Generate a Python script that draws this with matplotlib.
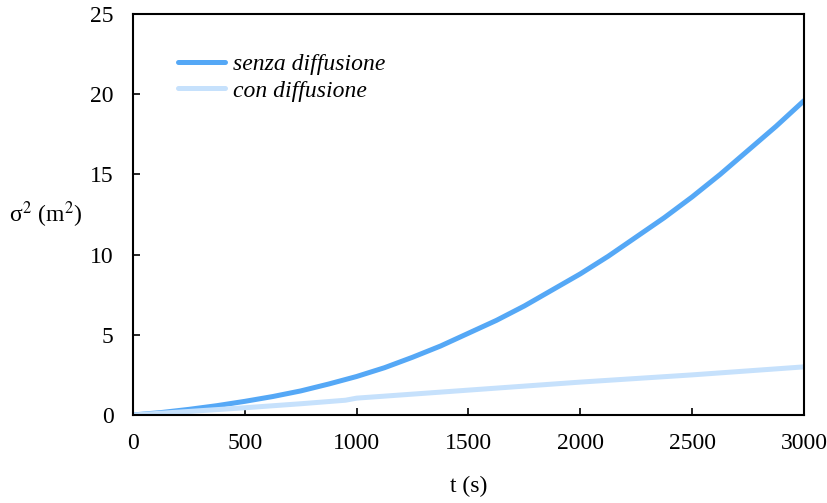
import numpy as np
from matplotlib import pyplot as plt

# time samples (s) and variance (m^2)
t_senza = [0, 125, 250, 375, 500, 625, 750, 875, 1000, 1125, 1250, 1375, 1500,
           1625, 1750, 1875, 2000, 2125, 2250, 2375, 2500, 2625, 2750, 2875, 3000]
s2_senza = [0, 0.15, 0.35, 0.58, 0.85, 1.15, 1.5, 1.93, 2.4, 2.95, 3.6, 4.3, 5.1,
            5.9, 6.8, 7.8, 8.8, 9.9, 11.1, 12.3, 13.6, 15.0, 16.5, 18.0, 19.6]

t_con = [0, 250, 500, 750, 950, 1000, 1500, 2000, 2500, 3000]
s2_con = [0, 0.22, 0.45, 0.7, 0.92, 1.05, 1.55, 2.05, 2.5, 3.0]

xticks = [0, 500, 1000, 1500, 2000, 2500, 3000]
yticks = [0, 5, 10, 15, 20, 25]

plt.rcParams['font.family'] = ['Liberation Serif', 'DejaVu Serif']
plt.rcParams['mathtext.fontset'] = 'stix'
plt.rcParams['font.size'] = 17

fig = plt.figure(figsize=(8.28, 5.03), dpi=100)
ax = fig.add_axes([0.1606, 0.175, 0.8104, 0.797])

ax.plot(t_senza, s2_senza, color='#55a8f6', lw=3.6, label='senza diffusione',
        solid_capstyle='round', solid_joinstyle='round')
ax.plot(t_con, s2_con, color='#c6e1fc', lw=3.6, label='con diffusione',
        solid_capstyle='round', solid_joinstyle='round')

ax.set_xlim(0, 3000)
ax.set_ylim(0, 25)
ax.set_xticks(xticks)
ax.set_yticks(yticks)
ax.tick_params(direction='in', length=5, width=1.2, labelsize=17)
ax.tick_params(axis='x', pad=13)
ax.tick_params(axis='y', pad=14)
for sp in ax.spines.values():
    sp.set_linewidth(1.5)

ax.set_xlabel('t (s)', fontsize=17, labelpad=16)
ax.set_ylabel('σ$^2$ (m$^2$)', fontsize=17, rotation=0, labelpad=32, va='center')

leg = ax.legend(loc='upper left', bbox_to_anchor=(0.035, 0.955), frameon=False,
                prop={'style': 'italic', 'size': 17}, handlelength=2.0,
                handletextpad=0.35, labelspacing=0.22)

fig.savefig('out.png', dpi=100)
